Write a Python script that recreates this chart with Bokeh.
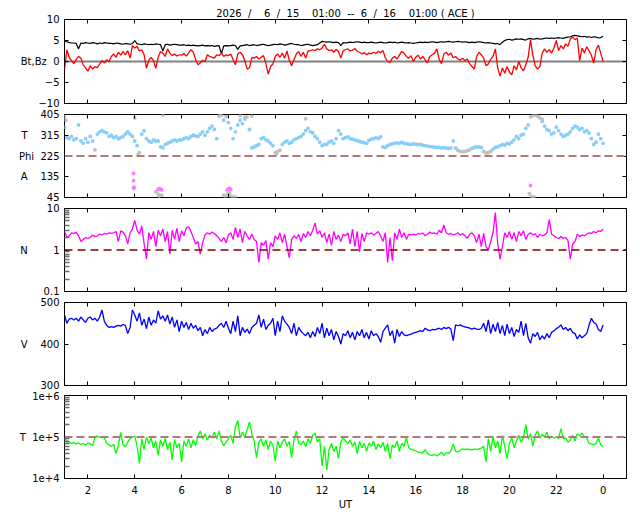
import numpy as np
from bokeh.plotting import figure
from bokeh.layouts import column
from bokeh.models import Range1d, FixedTicker, LinearAxis, LogAxis, Span
from bokeh.embed import file_html
from bokeh.resources import INLINE

nan = np.nan

# 6-minute samples from 01:00 UT (6/15) to 00:00 UT (6/16), hours of day 15
hours = [round(1 + 0.1 * i, 1) for i in range(231)]

# |B| and Bz (nT)
bt = [4.8, 4.7, 4.5, 4.4, 4.4, 4.3, 3.0, 4.4, 4.3, 4.5,
      4.4, 4.3, 4.5, 4.4, 4.2, 4.4, 4.3, 4.5, 4.4, 4.3,
      4.3, 4.2, 4.4, 4.3, 4.2, 4.1, 4.3, 4.2, 4.1, 4.3,
      5.0, 4.2, 4.1, 4.0, 4.2, 4.1, 4.0, 4.1, 4.0, 4.2,
      4.1, 4.0, 2.5, 4.0, 4.1, 3.9, 4.0, 4.1, 4.0, 3.9,
      3.9, 4.0, 3.8, 3.9, 3.8, 3.9, 3.8, 3.7, 3.8, 3.9,
      3.7, 3.8, 3.7, 3.8, 3.6, 3.7, 3.8, 1.8, 3.7, 3.8,
      3.7, 3.8, 3.9, 3.8, 2.9, 3.7, 3.8, 3.9, 4.0, 3.8,
      3.9, 4.0, 3.8, 3.9, 4.0, 4.1, 3.9, 3.8, 3.9, 4.0,
      4.1, 4.0, 4.2, 4.1, 3.9, 4.0, 4.2, 4.3, 4.1, 4.0,
      4.0, 3.8, 3.9, 4.0, 4.1, 3.9, 3.8, 3.9, 4.0, 4.4,
      4.8, 4.7, 4.6, 4.7, 4.6, 4.5, 4.6, 4.5, 3.8, 4.5,
      4.4, 4.5, 4.6, 4.5, 4.6, 4.7, 4.6, 4.5, 4.6, 4.5,
      4.5, 4.6, 4.5, 4.4, 4.5, 4.6, 4.5, 4.4, 4.5, 4.6,
      4.5, 4.6, 4.4, 4.5, 4.6, 4.5, 4.4, 4.5, 4.4, 4.3,
      4.4, 4.5, 4.6, 4.5, 4.6, 4.5, 4.6, 4.7, 4.6, 4.5,
      4.6, 4.7, 4.6, 4.7, 4.8, 4.7, 4.6, 4.7, 4.8, 4.7,
      4.6, 4.7, 4.6, 4.5, 4.6, 4.5, 4.6, 4.7, 4.6, 4.5,
      4.4, 4.5, 4.4, 4.3, 4.2, 4.3, 4.0, 4.6, 5.0, 5.2,
      5.3, 5.1, 5.2, 5.4, 5.3, 5.4, 5.2, 5.1, 5.4, 5.5,
      5.3, 5.4, 5.5, 5.3, 5.4, 5.5, 5.6, 5.5, 5.6, 5.5,
      5.6, 5.7, 5.6, 5.5, 5.7, 5.8, 5.9, 6.1, 6.2, 6.1,
      6.0, 5.9, 6.0, 5.8, 5.9, 5.7, 5.9, 5.8, 5.6, 5.7,
      6.0]
bz = [-2.0, 2.8, 1.0, 0.2, -0.5, 0.5, 1.2, 0.8, -0.8, -1.5,
      -2.3, -1.0, -1.8, -1.2, -1.5, -0.6, 0.2, -0.3, 0.4, 0.0,
      1.2, 1.8, 1.0, 2.2, 1.5, 2.4, 1.6, 2.6, 0.8, 3.8,
      3.2, 3.6, 2.5, 2.8, 1.6, -1.6, 0.3, 1.0, 0.2, -1.6,
      1.0, 2.4, 2.0, 1.2, 3.0, 2.0, 1.4, 1.8, 1.3, 1.6,
      1.5, 1.9, 1.3, 2.0, 2.8, 2.2, 0.5, -0.8, -0.3, 0.3,
      0.0, 1.6, 1.2, 1.0, 0.8, 1.6, 1.4, 2.0, 1.2, 1.6,
      1.4, 1.8, 0.5, -0.8, 1.8, 2.2, 1.6, 0.2, -1.8, -1.5,
      1.0, 0.8, 1.2, 0.6, 1.0, 1.4, -0.5, -3.0, -1.2, -0.6,
      1.2, 1.8, 1.0, 2.0, 0.8, 2.5, 0.3, -1.0, 0.5, 1.8,
      2.4, 1.2, 2.2, 0.8, 2.5, 2.6, 2.8, 2.6, 3.0, 2.8,
      3.2, 4.1, 3.0, 2.6, 2.8, 2.2, 2.9, 2.4, 0.8, 2.6,
      2.8, 3.0, 2.5, 2.7, 3.1, 2.4, 2.2, 1.8, 2.1, 1.6,
      2.0, 1.8, 2.2, 1.9, 2.4, 2.1, 2.6, 0.9, 0.0, -0.2,
      0.8, 1.2, 0.6, 1.5, 2.4, 2.0, 1.2, 0.8, 1.4, 0.0,
      1.0, 1.5, 0.6, 1.2, 0.4, -0.3, 1.2, 1.6, 2.0, 3.0,
      0.5, -0.5, 1.8, 2.2, 1.5, 2.0, 0.9, 1.2, 0.6, 0.3,
      0.8, 0.2, 0.6, -0.5, -1.2, -1.8, 1.2, 2.2, 1.6, 0.8,
      -1.0, -0.6, 0.5, 1.2, 3.0, -1.5, -3.5, -1.5, -2.8, -1.2,
      -2.5, -3.2, -1.0, -2.0, 0.0, -1.5, -2.2, -0.8, 1.0, 5.2,
      1.5, -1.0, -1.8, -1.2, 2.0, 3.0, 2.2, 2.8, 2.0, 3.2,
      5.0, 2.6, 3.8, 3.0, 4.2, 3.6, 5.4, 5.8, 5.2, 5.6,
      0.2, 3.2, 2.0, 3.5, 2.6, 1.5, -0.4, 2.8, 3.9, 2.0,
      0.0]

# Phi angle (deg): main series, plus grey and away-sector points
phi = [350, 305, 300, 310, 295, 300, 360, 290, 280, 300,
       285, 310, 290, nan, 320, 330, 335, 330, 325, 310,
       315, 305, 310, 300, 305, 310, 320, 330, 320, 310,
       290, 270, nan, 320, 335, 300, 290, 285, 295, 290,
       290, 265, 260, 275, 280, 285, 290, 295, 290, 295,
       295, 300, 305, 300, 310, 315, 312, 310, 320, 330,
       315, 330, 345, 355, 340, 300, nan, nan, 380, nan,
       370, 345, 300, 330, 360, 380, 365, 385, nan, 340,
       260, 265, 270, 275, 300, 305, 295, 290, 280, 270,
       nan, nan, nan, 275, 285, 290, 280, 285, 295, 300,
       305, 310, 320, 335, 345, 330, 325, 310, 300, 285,
       270, 275, 275, 285, 290, 280, 300, 335, 320, 300,
       305, 308, 300, 298, 295, 292, 288, 285, 283, 280,
       293, 298, 300, 305, 300, 308, 265, 262, 270, 275,
       278, 280, 282, 280, 285, 280, 278, 276, 275, 278,
       276, 274, 275, 272, 270, 268, 266, 265, 263, 262,
       262, 260, 261, 260, 258, 260, 290, 260, nan, nan,
       nan, nan, nan, nan, 258, 262, 265, 264, 262, nan,
       nan, nan, nan, 255, 262, 265, 270, 275, 272, 280,
       278, 285, 295, 310, 300, 315, 320, 345, 360, nan,
       nan, nan, nan, nan, 375, 355, 340, 335, 320, 325,
       350, 335, 320, 310, 315, 320, 330, 345, 355, 350,
       340, 345, 330, 335, 325, 300, 275, 285, 320, 300,
       280]
phi_grey_t = [1.0, 1.05, 2.3, 4.0, 4.15, 4.2, 4.9, 5.0, 5.05, 5.15, 5.2,
              7.6, 7.65, 7.7, 7.8, 7.85, 7.9, 7.95, 8.05, 8.1, 8.2, 8.3,
              8.5, 8.7, 8.8, 9.0, 10.0, 10.05, 10.1, 10.2, 11.3,
              17.8, 17.9, 18.0, 18.1, 18.2, 18.3, 18.9, 19.0, 19.1, 19.2,
              20.85, 20.9, 20.95, 21.0, 21.0, 21.05, 21.1, 21.2, 21.3, 21.4]
phi_grey = [395, 380, 252, 390, 232, 240, 70, 60, 50, 55, 403,
            398, 402, 402, 55, 50, 396, 60, 65, 52, 48, 46,
            400, 392, 395, 398, 240, 235, 245, 250, 387,
            250, 245, 243, 245, 248, 252, 245, 238, 240, 245,
            62, 395, 50, 47, 400, 48, 402, 398, 390, 385]
phi_away_t = [3.95, 3.95, 3.96, 3.96, 5.0, 5.05, 5.1, 5.15, 7.95, 8.0, 8.05, 8.1, 20.9]
phi_away = [150, 118, 90, 85, 80, 84, 80, 78, 78, 82, 84, 80, 97]

# proton density (/cc)
dens = [2.8, 2.0, 2.2, 2.6, 2.5, 2.7, 2.2, 1.6, 1.8, 2.0,
        1.9, 2.0, 2.3, 2.1, 2.2, 2.4, 2.3, 2.5, 2.4, 2.6,
        2.5, 2.6, 2.8, 1.6, 2.9, 2.7, 2.2, 1.4, 2.6, 3.2,
        5.2, 3.0, 2.4, 3.8, 1.4, 0.6, 2.6, 1.8, 2.8, 1.2,
        3.0, 2.2, 3.2, 1.6, 2.8, 0.8, 3.0, 1.8, 3.3, 1.6,
        2.9, 2.2, 3.4, 3.6, 2.8, 2.0, 1.4, 1.6, 0.8, 1.5,
        2.3, 2.6, 2.4, 2.7, 2.5, 2.2, 1.9, 1.6, 2.0, 1.5,
        2.3, 2.6, 1.8, 3.5, 2.0, 3.2, 1.5, 2.8, 2.2, 1.8,
        2.4, 1.8, 1.6, 0.5, 1.5, 1.3, 1.7, 0.6, 1.5, 1.2,
        2.2, 1.8, 2.6, 1.5, 2.4, 1.2, 0.65, 1.8, 2.2, 1.9,
        2.4, 1.6, 2.5, 2.0, 2.8, 2.2, 3.0, 4.5, 2.4, 2.9,
        2.0, 2.6, 1.5, 2.4, 1.3, 2.8, 1.8, 2.3, 1.6, 2.4,
        2.2, 2.6, 1.4, 3.2, 1.2, 2.8, 0.9, 2.5, 1.6, 2.6,
        2.4, 2.6, 2.3, 2.5, 2.8, 2.2, 1.6, 2.6, 0.5, 2.0,
        0.55, 2.6, 1.8, 3.2, 2.0, 2.6, 1.8, 2.4, 2.3, 2.4,
        2.3, 2.5, 2.4, 2.6, 2.2, 2.4, 2.7, 2.5, 2.6, 2.4,
        3.0, 2.6, 4.0, 2.6, 2.4, 2.5, 2.3, 2.4, 2.6, 2.3,
        2.5, 2.2, 1.9, 2.4, 2.6, 2.2, 1.5, 2.4, 1.2, 2.5,
        1.2, 1.0, 1.6, 2.6, 8.0, 1.4, 0.6, 1.2, 2.6, 2.0,
        2.8, 1.8, 2.6, 1.6, 2.8, 2.2, 2.9, 1.8, 2.4, 2.6,
        2.3, 2.5, 2.0, 2.4, 2.2, 2.3, 2.6, 5.4, 2.4, 2.2,
        2.0, 1.9, 2.1, 1.9, 2.0, 1.7, 0.6, 1.4, 1.6, 2.4,
        2.1, 2.3, 2.2, 2.4, 2.6, 2.5, 2.8, 2.6, 2.9, 2.8,
        3.2]

# bulk speed (km/s)
vel = [470, 450, 460, 462, 458, 462, 455, 465, 458, 452,
       462, 465, 458, 462, 455, 465, 482, 455, 445, 440,
       442, 440, 443, 445, 443, 447, 445, 425, 440, 482,
       470, 455, 475, 445, 460, 437, 465, 445, 458, 450,
       480, 460, 468, 455, 470, 448, 465, 440, 458, 430,
       455, 440, 452, 435, 450, 438, 445, 432, 440, 420,
       435, 425, 440, 430, 436, 438, 445, 450, 440, 455,
       438, 425, 455, 430, 468, 420, 440, 428, 436, 425,
       440, 445, 450, 470, 440, 460, 435, 445, 450, 462,
       420, 455, 430, 468, 455, 448, 440, 425, 450, 420,
       440, 430, 425, 420, 428, 415, 430, 418, 440, 425,
       450, 415, 438, 420, 435, 410, 430, 418, 400, 425,
       420, 432, 415, 428, 410, 430, 420, 435, 415, 428,
       412, 432, 420, 425, 418, 404, 430, 438, 446, 420,
       432, 402, 435, 418, 430, 422, 420, 422, 424, 426,
       428, 430, 432, 430, 438, 434, 432, 435, 434, 436,
       438, 435, 440, 437, 440, 436, 408, 446, 444, 446,
       443, 441, 440, 438, 436, 438, 436, 435, 438, 450,
       430, 458, 425, 448, 430, 452, 425, 445, 420, 448,
       425, 440, 418, 435, 428, 455, 420, 450, 415, 402,
       425, 418, 428, 410, 420, 412, 425, 415, 428, 432,
       437, 440, 446, 435, 440, 432, 438, 428, 425, 412,
       422, 415, 420, 425, 445, 462, 452, 448, 435, 430,
       446]

# proton temperature (K)
temp = [90000, 82000, 76000, 70000, 74000, 68000, 72000, 66000, 70000, 64000,
        72000, 68000, 62000, 98000, 105000, 98000, 100000, 96000, 72000, 64000,
        60000, 66000, 40000, 62000, 130000, 65000, 58000, 75000, 90000, 100000,
        105000, 60000, 23000, 90000, 50000, 100000, 70000, 95000, 55000, 80000,
        36000, 85000, 60000, 92000, 50000, 75000, 28000, 88000, 55000, 70000,
        25000, 80000, 60000, 90000, 55000, 85000, 62000, 105000, 140000, 90000,
        120000, 85000, 110000, 95000, 130000, 90000, 140000, 80000, 62000, 75000,
        90000, 110000, 70000, 180000, 250000, 95000, 130000, 100000, 150000, 230000,
        120000, 80000, 32000, 75000, 90000, 60000, 85000, 50000, 80000, 65000,
        26000, 80000, 55000, 75000, 90000, 60000, 78000, 32000, 85000, 140000,
        70000, 65000, 80000, 58000, 90000, 70000, 110000, 125000, 75000, 90000,
        20000, 60000, 16000, 50000, 70000, 45000, 60000, 30000, 75000, 95000,
        80000, 70000, 85000, 60000, 75000, 40000, 78000, 55000, 70000, 45000,
        72000, 60000, 80000, 50000, 68000, 55000, 75000, 45000, 70000, 30000,
        65000, 55000, 80000, 45000, 70000, 60000, 98000, 55000, 50000, 48000,
        46000, 44000, 42000, 41000, 50000, 40000, 37000, 36000, 38000, 35000,
        38000, 43000, 36000, 42000, 40000, 46000, 68000, 45000, 44000, 48000,
        52000, 50000, 51000, 50000, 49000, 51000, 50000, 52000, 54000, 60000,
        25000, 90000, 45000, 105000, 55000, 80000, 40000, 110000, 60000, 30000,
        70000, 95000, 55000, 80000, 110000, 75000, 95000, 200000, 90000, 120000,
        60000, 110000, 140000, 95000, 115000, 100000, 130000, 90000, 105000, 95000,
        100000, 92000, 160000, 90000, 95000, 75000, 85000, 110000, 80000, 120000,
        105000, 125000, 100000, 95000, 70000, 68000, 65000, 70000, 95000, 65000,
        58000]

x_ticks = [2, 4, 6, 8, 10, 12, 14, 16, 18, 20, 22, 24]
x_names = {24: "0"}
title = "2026\u00a0\u00a0/\u00a0\u00a0\u00a0 6\u00a0 /\u00a0 15\u00a0\u00a0\u00a0 01:00\u00a0 --\u00a0 6\u00a0 /\u00a0 16\u00a0\u00a0\u00a0 01:00 ( ACE )"

FONT = "DejaVu Sans"
FS = "10px"
SP = "\u00a0"


def panel(y_range, log=False, top=6, bottom=5, fh=83):
    p = figure(frame_width=562, frame_height=fh, x_range=Range1d(1, 25), y_range=y_range,
               y_axis_type="log" if log else "linear", output_backend="svg",
               toolbar_location=None, min_border_left=64, min_border_right=14,
               min_border_top=top, min_border_bottom=bottom)
    p.grid.visible = False
    p.outline_line_color = "black"
    p.add_layout(LinearAxis(), "above")
    p.add_layout(LogAxis() if log else LinearAxis(), "right")
    for ax in p.axis:
        ax.axis_line_color = None
        ax.major_tick_in = 4
        ax.major_tick_out = 0
        ax.minor_tick_in = 0
        ax.minor_tick_out = 0
        ax.major_tick_line_color = "black"
        ax.major_label_text_font = FONT
        # tick marks only: labels hidden and (almost) no room kept for them
        ax.major_label_text_font_size = "1px"
        ax.major_label_text_color = None
        ax.major_label_standoff = 0
    for ax in p.xaxis:
        ax.ticker = FixedTicker(ticks=x_ticks)
        ax.major_label_overrides = x_names
    left = p.left[0]
    left.major_label_text_font_size = FS
    left.major_label_text_color = "black"
    left.major_label_standoff = 5
    return p


def y_ticks(p, ticks, names, minor=None):
    p.left[0].ticker = FixedTicker(ticks=ticks, minor_ticks=minor or [])
    p.right[0].ticker = FixedTicker(ticks=ticks)
    p.left[0].major_label_overrides = names
    if minor:
        p.left[0].minor_tick_in = 5
        p.left[0].minor_tick_line_color = "#6e6e6e"
        p.left[0].minor_tick_line_width = 1.5


# IMF
p1 = panel(Range1d(-10, 10), top=19, fh=84)
y_ticks(p1, [-10, -5, 0, 5, 10], {0: "Bt,Bz" + SP * 2 + "0"})
p1.title.text = title
p1.title.align = "center"
p1.title.text_font = FONT
p1.title.text_font_size = FS
p1.title.text_font_style = "normal"
p1.title.text_color = "black"
p1.title.standoff = 2
p1.add_layout(Span(location=0, dimension="width", line_color="#808080", line_width=2, level="underlay"))
p1.line(hours, bt, color="black", line_width=1.2)
p1.line(hours, bz, color="#ff0000", line_width=1.3)

# Phi angle
p2 = panel(Range1d(45, 405))
y_ticks(p2, [45, 135, 225, 315, 405],
        {315: "T" + SP * 4 + "315", 225: "Phi" + SP * 2 + "225", 135: "A" + SP * 4 + "135"})
p2.add_layout(Span(location=225, dimension="width", line_color="#b47878", line_width=2, line_dash="8 4"))
p2.scatter(hours, phi, size=3.8, color="#87cefa", line_color=None)
p2.scatter(phi_grey_t, phi_grey, size=3.8, color="#c0c0c0", line_color=None)
p2.scatter(phi_away_t, phi_away, size=3.8, color="#ff77ff", line_color=None)

# density
p3 = panel(Range1d(0.1, 10), log=True)
y_ticks(p3, [0.1, 1, 10], {0.1: "0.1", 1: "N" + SP * 8 + "1", 10: "10"},
        minor=[0.2, 0.3, 0.4, 0.5, 0.6, 0.7, 0.8, 0.9, 2, 3, 4, 5, 6, 7, 8, 9])
p3.add_layout(Span(location=1, dimension="width", line_color="#800000", line_width=1.3, line_dash="8 5"))
p3.line(hours, dens, color="#ff00ff", line_width=1.3)

# speed
p4 = panel(Range1d(300, 500))
y_ticks(p4, [300, 400, 500], {400: "V" + SP * 4 + "400"})
p4.line(hours, vel, color="#0000ff", line_width=1.3)

# temperature
p5 = panel(Range1d(1e4, 1e6), log=True, top=5, bottom=34)
y_ticks(p5, [1e4, 1e5, 1e6], {1e4: "1e+4", 1e5: "T" + SP * 2 + "1e+5", 1e6: "1e+6"},
        minor=[2e4, 3e4, 4e4, 5e4, 6e4, 7e4, 8e4, 9e4, 2e5, 3e5, 4e5, 5e5, 6e5, 7e5, 8e5, 9e5])
p5.add_layout(Span(location=1e5, dimension="width", line_color="#b47878", line_width=2, line_dash="8 4"))
p5.line(hours, temp, color="#00ff00", line_width=1.3)
bx = p5.below[0]
bx.major_label_text_font_size = FS
bx.major_label_text_color = "black"
bx.major_label_standoff = 7
bx.axis_label = "UT"
bx.axis_label_text_font = FONT
bx.axis_label_text_font_size = FS
bx.axis_label_text_font_style = "normal"
bx.axis_label_text_color = "black"
bx.axis_label_standoff = 2

layout = column(p1, p2, p3, p4, p5)
open("out.html", "w").write(file_html(layout, INLINE))
